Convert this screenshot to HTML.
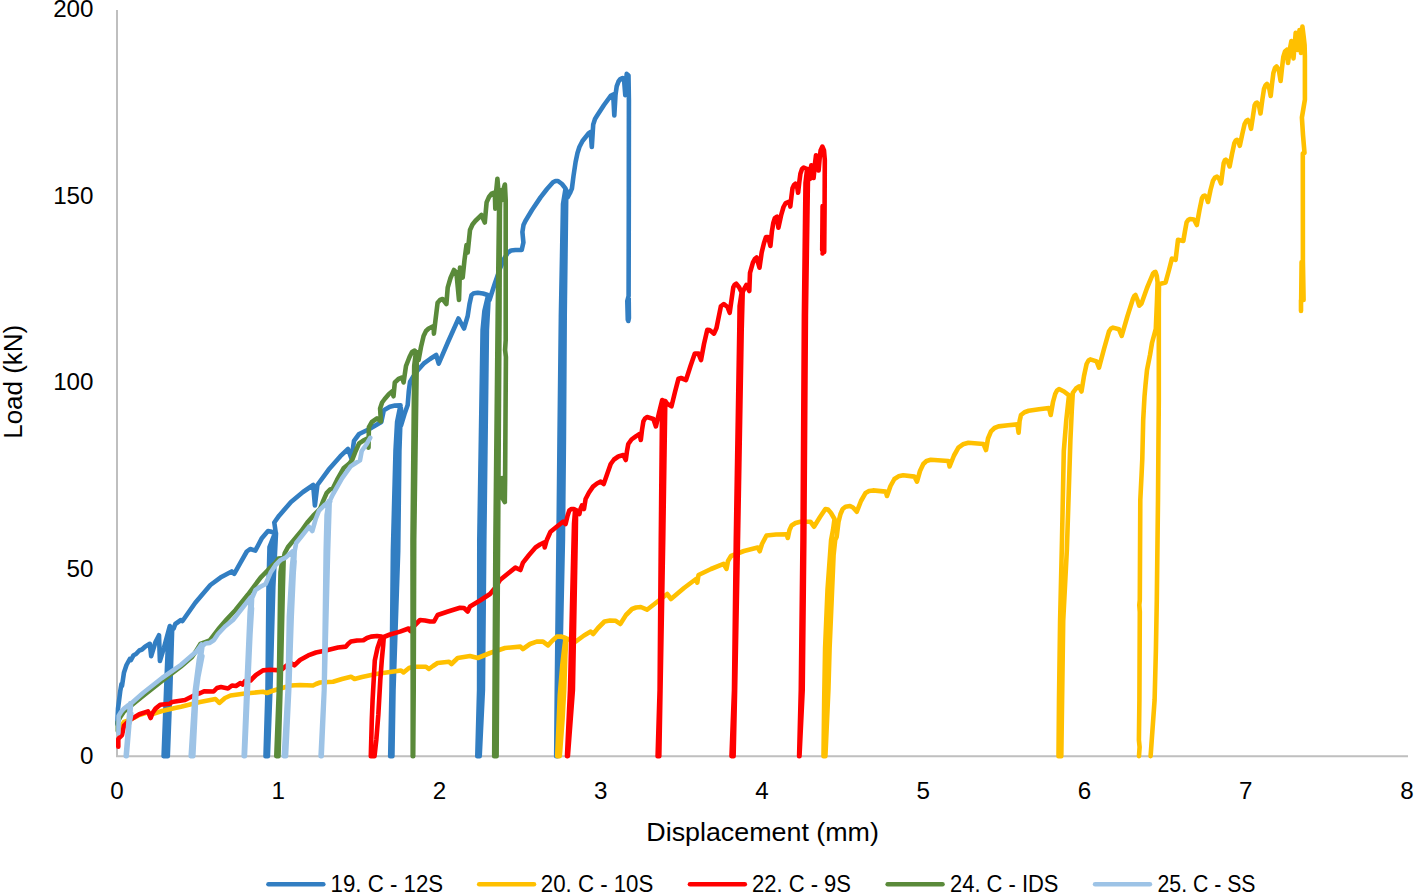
<!DOCTYPE html>
<html lang="en"><head><meta charset="utf-8"><title>Load vs Displacement</title>
<style>
html,body{margin:0;padding:0;background:#fff;}
body{width:1414px;height:893px;overflow:hidden;font-family:"Liberation Sans",sans-serif;}
svg{display:block}
text{font-family:"Liberation Sans",sans-serif;fill:#000;}
.s{fill:none;stroke-width:4.6;stroke-linejoin:round;stroke-linecap:round}
</style></head><body>
<svg width="1414" height="893" viewBox="0 0 1414 893">
<rect width="1414" height="893" fill="#fff"/>
<path d="M117 10 V756.2 H1408" fill="none" stroke="#BFBFBF" stroke-width="2"/>

<path class="s" stroke="#327EC2" d="M117.4 724.0 L117.6 718.0 L118.0 708.6 L120.2 691.4 L121.5 684.0 L122.0 686.0 L124.0 672.4 L126.5 665.0 L129.8 659.0 L131.0 660.0 L133.6 655.2 L136.0 654.0 L139.3 650.5 L142.0 649.5 L145.0 646.7 L149.8 643.8 L151.2 656.2 L155.5 642.0 L159.0 635.2 L159.9 661.0 L164.0 647.6 L169.8 626.0 L171.2 628.0 L168.0 642.0 L166.1 690.0 L163.6 756.2 L165.7 756.2 L168.2 690.0 L171.2 638.0 L168.2 690.0 L165.7 756.2 L167.8 756.2 L170.3 690.0 L172.2 628.0 L173.6 628.6 L175.3 624.0 L181.0 620.0 L182.5 621.0 L195.3 602.7 L210.4 585.0 L220.4 577.6 L231.7 571.4 L234.2 573.9 L240.5 562.6 L246.8 551.5 L250.2 549.0 L255.3 550.6 L262.0 537.9 L268.0 531.0 L270.5 531.5 L275.0 533.0 L269.5 547.0 L268.5 587.0 L267.5 690.0 L265.5 756.2 L266.7 756.2 L268.9 690.0 L270.9 587.0 L273.7 543.0 L270.9 587.0 L268.9 690.0 L266.7 756.2 L267.9 756.2 L270.4 690.0 L273.3 587.0 L276.0 533.0 L275.8 533.0 L274.3 522.5 L279.1 515.7 L291.0 502.0 L303.0 492.0 L313.2 485.0 L314.9 505.5 L317.4 485.0 L328.5 469.8 L340.4 456.2 L348.0 449.0 L351.5 458.7 L354.0 440.8 L359.1 434.0 L369.4 429.0 L381.3 422.0 L383.8 410.2 L389.8 406.8 L395.0 405.6 L400.5 405.4 L399.9 408.0 L397.1 422.0 L395.5 451.0 L392.9 551.0 L391.5 690.0 L390.2 756.2 L391.3 756.2 L392.5 690.0 L395.6 551.0 L397.4 451.0 L400.2 418.0 L397.4 451.0 L395.6 551.0 L392.5 690.0 L391.3 756.2 L392.4 756.2 L393.5 690.0 L398.2 551.0 L399.4 451.0 L400.9 408.0 L401.0 425.5 L404.5 414.0 L407.7 405.0 L408.8 391.0 L410.0 382.0 L413.6 376.0 L418.0 370.0 L423.6 363.7 L430.0 359.0 L436.2 355.0 L438.7 363.7 L448.0 342.0 L458.5 318.5 L464.0 328.5 L467.7 316.0 L469.5 304.0 L471.5 295.0 L474.0 293.2 L477.8 292.7 L483.0 293.5 L487.8 295.0 L487.7 297.0 L484.4 311.0 L482.6 330.0 L479.3 540.0 L479.1 690.0 L477.3 756.2 L478.5 756.2 L481.0 690.0 L481.8 540.0 L484.8 330.0 L488.1 307.0 L484.8 330.0 L481.8 540.0 L481.0 690.0 L478.5 756.2 L479.7 756.2 L482.9 690.0 L484.3 540.0 L486.9 330.0 L488.7 297.0 L489.5 300.0 L495.0 283.0 L500.4 267.6 L504.0 259.0 L507.9 252.6 L511.0 250.5 L515.4 250.0 L521.7 250.0 L523.4 242.5 L522.4 232.0 L523.5 225.0 L525.4 221.0 L532.0 210.0 L540.5 197.4 L547.0 189.0 L553.0 182.3 L555.5 181.0 L558.0 181.0 L562.0 184.0 L565.6 188.6 L565.3 190.0 L563.0 204.0 L560.9 316.0 L559.5 440.0 L558.5 540.0 L556.8 690.0 L556.2 756.2 L557.0 756.2 L558.2 690.0 L560.7 540.0 L561.7 440.0 L562.8 316.0 L565.6 200.0 L562.8 316.0 L561.7 440.0 L560.7 540.0 L558.2 690.0 L557.0 756.2 L557.7 756.2 L559.7 690.0 L562.9 540.0 L563.9 440.0 L564.7 316.0 L566.3 190.0 L567.6 197.4 L570.0 193.0 L571.9 188.6 L573.5 176.0 L575.6 162.0 L577.5 153.0 L579.4 147.0 L582.5 141.0 L585.7 137.0 L588.5 133.5 L590.7 132.0 L591.8 147.0 L593.2 124.6 L595.0 119.0 L597.0 115.8 L604.0 105.0 L610.7 95.8 L613.2 94.5 L614.3 115.5 L615.5 95.0 L616.7 86.4 L618.5 81.5 L620.4 79.0 L622.5 78.0 L624.0 79.0 L625.3 95.2 L626.7 73.9 L628.5 75.5 L628.9 100.0 L628.8 200.0 L628.6 296.0 L627.3 301.0 L627.8 320.0 L628.9 318.0 L628.7 298.0 L628.9 318.0 L628.3 321.0"/>
<path class="s" stroke="#FFC000" d="M118.6 732.0 L119.5 729.0 L124.0 722.0 L129.8 720.0 L139.3 715.0 L147.9 712.4 L152.6 714.0 L162.0 711.0 L175.0 708.0 L181.0 706.7 L200.0 702.0 L215.5 699.0 L219.3 702.9 L225.0 698.0 L230.5 695.5 L245.0 693.5 L263.0 691.8 L267.0 693.0 L272.0 691.0 L290.7 685.5 L300.0 685.0 L313.0 685.5 L316.0 684.0 L320.0 682.5 L333.0 681.7 L342.0 679.0 L351.0 676.7 L354.5 679.0 L362.0 677.0 L376.0 674.0 L390.0 672.0 L401.0 670.5 L403.5 672.5 L409.0 668.0 L413.6 666.7 L426.0 666.7 L428.9 669.0 L433.0 666.0 L437.6 663.0 L449.0 661.7 L451.5 664.0 L457.7 658.0 L470.0 656.0 L477.8 658.0 L490.0 653.0 L505.0 648.0 L520.4 646.6 L522.9 649.0 L530.0 644.0 L536.7 641.6 L543.0 641.6 L548.0 645.4 L552.0 641.0 L556.8 636.6 L561.0 636.5 L565.6 638.0 L564.0 650.0 L562.3 665.0 L559.8 695.0 L557.2 756.2 L559.8 756.2 L562.5 720.0 L564.2 690.0 L565.4 655.0 L566.3 638.5 L575.6 641.6 L584.0 635.5 L590.7 631.6 L593.2 634.0 L598.0 628.0 L604.5 621.5 L610.0 620.5 L615.8 620.8 L620.3 624.0 L626.0 615.0 L632.0 609.0 L636.0 607.5 L640.8 607.0 L647.0 609.7 L657.0 602.0 L667.2 594.0 L671.0 599.0 L684.0 588.0 L696.0 579.0 L697.3 582.6 L698.5 575.0 L711.0 569.0 L723.6 563.8 L726.5 568.9 L728.0 561.0 L731.0 556.0 L744.0 551.0 L757.7 547.5 L759.7 551.3 L762.0 544.0 L766.5 535.5 L776.0 534.5 L786.6 534.3 L787.8 538.0 L789.5 530.0 L791.6 525.5 L795.5 523.0 L800.4 521.7 L810.4 521.7 L814.0 526.7 L820.0 517.0 L825.4 509.0 L828.0 509.5 L831.0 513.0 L834.5 519.0 L833.0 530.0 L831.1 540.0 L827.5 590.0 L825.1 648.0 L824.2 700.0 L823.5 756.2 L825.4 756.2 L828.4 690.0 L829.6 648.0 L832.1 590.0 L833.6 555.0 L835.2 540.0 L836.7 536.8 L838.5 522.0 L840.5 514.0 L842.7 509.0 L845.5 506.7 L850.0 506.0 L853.0 507.5 L856.8 511.7 L861.0 501.0 L865.6 492.9 L869.0 491.0 L873.0 490.4 L885.7 491.6 L887.0 496.0 L890.5 486.0 L894.4 479.0 L898.5 476.3 L903.2 475.3 L914.5 476.6 L917.0 481.6 L920.0 471.0 L923.3 464.0 L926.5 461.0 L930.8 459.8 L948.4 461.0 L949.6 466.5 L954.0 455.5 L958.4 447.7 L963.0 444.3 L968.4 442.7 L983.5 444.0 L986.0 450.0 L988.0 438.5 L991.0 431.4 L994.5 428.0 L998.5 426.4 L1008.0 425.3 L1017.4 424.4 L1018.6 432.7 L1019.6 421.0 L1021.0 415.0 L1024.5 412.2 L1028.7 410.8 L1039.0 409.3 L1049.0 408.0 L1050.7 415.0 L1053.0 402.0 L1055.2 394.0 L1057.0 390.5 L1059.0 389.0 L1064.0 391.5 L1069.0 395.3 L1066.3 420.0 L1063.8 451.0 L1062.0 540.0 L1060.1 621.0 L1059.0 700.0 L1058.5 756.2 L1061.3 756.2 L1063.2 621.0 L1066.9 549.0 L1070.4 440.0 L1071.8 410.0 L1072.8 392.8 L1076.0 388.5 L1079.0 386.5 L1081.5 391.5 L1084.0 376.0 L1086.6 364.0 L1088.5 360.5 L1090.3 359.4 L1096.6 361.4 L1099.0 367.7 L1104.0 349.0 L1109.0 331.3 L1111.0 328.5 L1113.0 327.6 L1119.0 329.3 L1121.7 335.8 L1127.5 316.0 L1133.0 298.7 L1134.3 296.0 L1135.5 295.0 L1137.3 299.5 L1139.2 305.7 L1141.5 303.6 L1147.0 288.0 L1153.0 273.6 L1154.3 272.2 L1155.5 271.9 L1156.8 276.0 L1157.6 282.4 L1157.0 300.0 L1155.8 328.8 L1152.0 343.0 L1150.0 355.0 L1147.0 370.0 L1145.5 385.0 L1144.5 396.6 L1143.2 420.0 L1142.3 459.0 L1141.6 474.0 L1140.3 500.0 L1139.8 600.0 L1139.3 605.0 L1139.8 612.0 L1139.4 700.0 L1138.9 740.0 L1139.6 747.0 L1139.0 756.2 M1150.6 756.2 L1154.6 700.0 L1155.9 650.0 L1156.8 600.0 L1158.0 500.0 L1158.8 400.0 L1158.8 300.0 L1159.0 284.0 L1160.6 283.7 L1165.6 282.4 L1169.0 270.0 L1171.9 258.6 L1175.6 259.8 L1177.0 248.0 L1178.0 239.8 L1183.3 241.0 L1185.0 231.0 L1186.6 222.4 L1188.2 220.0 L1190.0 219.0 L1194.0 219.5 L1196.8 225.0 L1199.5 210.0 L1202.0 198.0 L1203.3 196.2 L1204.8 195.5 L1206.5 197.5 L1208.0 202.0 L1210.5 190.0 L1213.0 180.7 L1215.0 177.6 L1217.0 176.7 L1219.0 178.5 L1221.0 183.4 L1222.5 172.0 L1223.7 163.0 L1224.8 160.3 L1225.8 159.7 L1227.8 161.5 L1229.6 166.5 L1232.0 154.0 L1234.4 143.0 L1235.7 140.5 L1237.0 139.8 L1238.5 141.5 L1239.8 145.8 L1242.3 134.0 L1244.6 124.0 L1246.2 121.0 L1247.8 120.0 L1249.5 122.5 L1251.0 128.8 L1253.0 116.0 L1254.6 105.4 L1255.8 103.2 L1257.0 102.7 L1259.0 105.5 L1260.5 113.5 L1262.3 100.0 L1264.0 89.0 L1265.5 85.5 L1267.0 84.0 L1269.0 87.0 L1270.7 96.0 L1272.0 84.0 L1273.4 73.0 L1275.0 68.0 L1276.6 66.5 L1278.8 70.0 L1280.6 81.0 L1282.0 68.0 L1283.3 57.0 L1285.0 51.5 L1286.8 49.8 L1288.0 63.0 L1289.7 50.0 L1291.4 41.0 L1293.5 58.4 L1295.7 32.8 L1297.6 50.0 L1299.5 30.0 L1301.0 53.0 L1302.4 26.5 L1303.6 36.0 L1304.6 45.0 L1304.9 56.6 L1304.9 99.6 L1303.5 108.0 L1301.9 117.5 L1303.0 135.0 L1304.5 153.0 L1302.8 153.5 L1302.9 261.0 L1303.6 300.0 L1301.2 299.0 L1301.6 262.0 L1302.4 300.0 L1301.0 300.0 L1301.0 311.0"/>
<path class="s" stroke="#FF0000" d="M118.3 746.7 L118.3 739.0 L120.0 737.0 L122.0 735.0 L124.0 725.7 L129.8 720.0 L139.3 714.3 L147.9 711.4 L150.7 718.0 L152.5 713.0 L155.5 708.6 L160.2 704.8 L169.8 703.8 L172.0 702.0 L185.0 700.0 L196.4 694.3 L200.4 693.0 L204.0 691.4 L213.6 691.5 L217.0 688.0 L221.0 687.0 L228.0 688.5 L232.0 685.5 L236.0 686.0 L240.5 683.0 L242.5 684.5 L245.0 681.0 L250.5 680.5 L256.0 675.0 L263.0 670.4 L270.0 669.8 L280.6 670.4 L286.0 666.0 L290.7 663.0 L294.4 665.4 L300.0 660.0 L308.2 655.4 L316.0 652.5 L325.8 650.4 L338.0 647.5 L345.9 646.6 L348.0 644.0 L350.9 641.6 L357.0 640.5 L363.4 640.3 L367.0 638.0 L371.0 636.6 L377.0 636.0 L381.5 636.6 L380.2 640.0 L377.5 648.0 L374.8 660.4 L372.6 700.0 L371.8 720.0 L370.8 756.2 L374.5 756.2 L376.3 740.0 L378.3 715.0 L380.3 680.0 L381.8 660.0 L383.2 645.0 L383.8 637.0 L390.0 634.5 L400.0 631.6 L408.6 628.5 L410.3 631.0 L412.0 628.0 L420.0 620.0 L425.0 620.5 L430.0 621.5 L434.0 621.5 L437.6 615.0 L448.0 611.5 L460.0 607.7 L464.0 608.0 L467.7 611.5 L470.0 606.5 L480.0 600.5 L490.0 594.0 L495.0 588.0 L500.0 580.0 L508.0 573.5 L515.4 567.6 L520.4 570.0 L523.0 562.6 L529.0 555.0 L535.5 547.5 L540.0 544.5 L544.0 542.5 L544.7 547.5 L546.8 540.0 L550.5 531.8 L557.0 526.5 L563.0 521.7 L565.6 524.0 L567.5 516.0 L569.3 510.4 L571.5 509.0 L574.0 509.0 L575.1 510.0 L574.0 524.0 L573.6 540.0 L570.0 690.0 L567.0 756.2 L567.5 756.2 L571.5 690.0 L574.6 540.0 L576.0 520.0 L574.6 540.0 L571.5 690.0 L567.5 756.2 L567.9 756.2 L572.9 690.0 L575.7 540.0 L576.1 510.0 L579.4 514.0 L580.5 509.0 L582.0 505.4 L584.0 509.0 L585.6 499.0 L589.0 492.5 L593.0 486.6 L597.0 483.5 L600.7 481.6 L603.7 484.0 L607.0 474.5 L610.7 464.0 L614.0 459.5 L618.3 456.5 L623.3 455.0 L625.8 460.0 L627.0 451.0 L628.3 444.0 L631.5 439.5 L635.8 436.4 L639.6 434.0 L640.8 440.0 L642.0 430.0 L643.4 421.4 L645.0 418.5 L647.0 417.0 L653.4 419.0 L655.9 426.4 L659.0 413.0 L662.2 400.0 L664.3 401.0 L662.0 415.0 L660.8 540.0 L659.6 690.0 L657.6 756.2 L658.5 756.2 L660.0 690.0 L662.0 540.0 L664.5 411.0 L662.0 540.0 L660.0 690.0 L658.5 756.2 L659.3 756.2 L660.5 690.0 L663.2 540.0 L665.3 401.0 L667.2 403.8 L671.5 406.3 L675.0 392.0 L678.5 378.7 L681.0 378.0 L686.0 380.0 L690.5 366.0 L694.8 353.6 L698.5 353.6 L701.0 360.0 L704.0 344.0 L707.3 329.8 L709.5 330.0 L714.0 333.6 L716.5 328.0 L718.5 318.0 L720.9 306.3 L723.8 304.0 L727.5 307.0 L729.7 312.8 L731.5 300.0 L733.3 287.3 L734.7 284.6 L736.2 283.7 L739.1 287.3 L741.3 291.7 L741.7 292.0 L739.6 306.0 L739.3 330.0 L735.8 540.0 L734.0 690.0 L731.5 756.2 L732.5 756.2 L734.5 690.0 L736.9 540.0 L740.5 330.0 L742.0 302.0 L740.5 330.0 L736.9 540.0 L734.5 690.0 L732.5 756.2 L733.6 756.2 L735.1 690.0 L738.0 540.0 L741.7 330.0 L742.7 292.0 L744.2 288.8 L746.4 285.0 L749.3 291.0 L750.0 272.8 L752.9 262.6 L754.8 259.0 L756.6 257.5 L759.5 267.7 L761.7 252.4 L764.0 243.0 L766.0 237.0 L768.2 237.0 L770.4 245.9 L771.9 231.3 L773.3 223.0 L774.8 218.2 L777.0 216.7 L778.4 227.7 L781.3 214.6 L783.5 207.0 L785.7 203.0 L789.3 201.5 L790.3 206.6 L791.5 196.0 L792.5 188.3 L794.0 185.0 L795.4 183.8 L797.0 186.0 L798.1 192.8 L799.3 182.0 L800.4 173.7 L802.0 169.0 L803.7 167.5 L807.1 169.0 L805.5 183.0 L803.9 316.0 L802.5 540.0 L800.8 690.0 L799.1 756.2 L799.3 756.2 L801.8 690.0 L803.4 540.0 L804.9 316.0 L807.7 179.0 L804.9 316.0 L803.4 540.0 L801.8 690.0 L799.3 756.2 L799.5 756.2 L802.7 690.0 L804.3 540.0 L805.9 316.0 L808.1 169.0 L809.8 179.0 L810.5 171.0 L811.3 165.4 L813.6 178.0 L814.8 165.0 L816.0 155.4 L818.6 170.5 L819.7 158.0 L820.6 150.4 L822.4 146.6 L824.0 150.4 L824.8 160.0 L824.6 205.0 L824.2 252.0 L822.2 250.0 L822.6 206.0 L823.0 251.0 L822.6 253.5"/>
<path class="s" stroke="#5A8A3A" d="M117.8 731.0 L117.8 722.0 L120.0 717.5 L124.0 711.5 L130.0 706.5 L143.0 696.0 L162.0 681.0 L181.0 666.5 L192.0 657.0 L196.4 650.5 L200.4 644.0 L209.8 640.5 L219.3 628.0 L227.0 619.0 L235.5 610.0 L248.0 594.5 L260.6 577.6 L268.0 570.0 L275.6 562.6 L278.5 558.5 L282.7 558.0 L280.5 572.0 L280.2 587.0 L278.8 690.0 L276.3 756.2 L277.4 756.2 L279.6 690.0 L281.5 587.0 L283.1 568.0 L281.5 587.0 L279.6 690.0 L277.4 756.2 L278.5 756.2 L280.5 690.0 L282.9 587.0 L283.7 558.0 L284.8 553.0 L288.0 547.0 L292.8 541.3 L301.3 531.0 L308.0 521.7 L313.2 515.7 L320.0 509.0 L323.4 500.4 L326.8 492.8 L330.2 489.4 L332.8 488.5 L337.0 480.0 L343.8 468.0 L349.0 463.8 L352.3 459.6 L355.7 451.0 L359.1 443.4 L364.3 440.0 L367.7 438.3 L368.5 447.7 L368.9 427.2 L371.9 422.0 L377.0 418.4 L380.9 421.3 L380.1 408.5 L382.1 402.5 L384.7 399.0 L386.0 397.5 L389.0 394.0 L392.3 391.3 L393.5 396.3 L394.8 382.5 L398.5 379.0 L402.3 377.5 L403.6 382.5 L406.0 366.0 L409.5 357.0 L412.0 352.0 L414.6 350.5 L415.9 352.0 L414.2 366.0 L412.5 540.0 L412.7 690.0 L412.7 756.2 L412.9 756.2 L413.2 690.0 L413.4 540.0 L416.4 362.0 L413.4 540.0 L413.2 690.0 L412.9 756.2 L413.2 756.2 L413.7 690.0 L414.2 540.0 L416.9 352.0 L418.6 360.0 L421.0 347.0 L423.6 336.0 L426.0 331.0 L428.7 328.5 L433.7 326.0 L433.9 333.6 L435.5 320.0 L437.6 302.7 L440.0 300.0 L442.6 299.0 L446.4 304.0 L447.7 287.7 L450.5 278.0 L454.0 270.0 L456.4 272.6 L459.0 300.0 L460.0 267.6 L462.7 277.6 L464.5 260.0 L466.5 245.0 L467.7 252.6 L470.0 230.0 L472.5 224.5 L475.3 221.0 L481.5 215.0 L484.8 222.5 L486.6 202.4 L489.0 197.0 L491.6 193.6 L494.8 192.4 L495.3 208.7 L496.3 190.0 L497.4 178.8 L499.2 200.0 L497.7 316.0 L495.4 540.0 L494.2 756.2 L496.6 756.2 L498.1 540.0 L499.5 316.0 L499.9 210.0 L500.4 190.0 L502.2 200.0 L503.6 189.0 L504.9 184.5 L505.7 200.0 L505.7 340.0 L505.1 350.0 L505.9 357.0 L505.1 480.0 L504.8 502.0 L502.3 497.0 L502.1 478.0 L502.5 498.0 L504.8 502.0"/>
<path class="s" stroke="#9DC3E6" d="M118.4 733.3 L118.6 716.0 L121.0 712.0 L124.0 708.6 L127.5 705.8 L130.7 703.8 L130.1 703.5 L128.8 717.5 L127.9 730.0 L125.7 756.2 L126.2 756.2 L128.4 730.0 L131.3 713.5 L128.4 730.0 L126.2 756.2 L126.7 756.2 L128.9 730.0 L131.1 703.5 L143.0 693.0 L162.0 678.0 L181.0 664.8 L190.0 657.0 L196.4 651.4 L200.0 646.5 L201.6 644.5 L201.5 646.0 L198.8 660.0 L194.9 690.0 L190.7 756.2 L192.0 756.2 L195.8 690.0 L202.4 656.0 L195.8 690.0 L192.0 756.2 L193.3 756.2 L196.6 690.0 L202.5 646.0 L205.4 643.5 L209.8 642.9 L214.0 640.0 L218.0 634.0 L225.0 626.5 L233.0 620.0 L242.0 608.5 L250.5 597.7 L251.1 598.0 L249.7 612.0 L246.3 690.0 L243.7 756.2 L244.3 756.2 L247.1 690.0 L252.0 608.0 L247.1 690.0 L244.3 756.2 L244.9 756.2 L247.9 690.0 L252.1 598.0 L255.5 590.0 L260.0 587.0 L265.6 584.0 L270.6 572.6 L275.6 565.0 L280.6 560.0 L285.6 557.6 L289.5 554.0 L293.0 551.0 L293.7 551.0 L292.0 565.0 L288.9 617.0 L287.6 690.0 L283.8 756.2 L284.9 756.2 L288.4 690.0 L290.3 617.0 L294.6 561.0 L290.3 617.0 L288.4 690.0 L284.9 756.2 L286.0 756.2 L289.2 690.0 L291.7 617.0 L294.7 551.0 L296.2 543.0 L303.0 534.5 L309.0 526.8 L312.3 531.0 L315.7 519.0 L319.0 510.6 L325.0 504.7 L330.2 501.3 L328.7 501.0 L326.6 515.0 L325.7 551.0 L323.9 690.0 L320.6 756.2 L321.1 756.2 L324.2 690.0 L326.9 551.0 L329.1 511.0 L326.9 551.0 L324.2 690.0 L321.1 756.2 L321.7 756.2 L324.5 690.0 L328.1 551.0 L329.7 501.0 L332.8 494.5 L342.0 478.3 L350.6 466.4 L355.7 463.0 L360.0 460.4 L361.7 451.0 L366.0 445.0 L370.2 437.8"/>
<text x="93.5" y="16.9" font-size="24.2" text-anchor="end">200</text>
<text x="93.5" y="203.6" font-size="24.2" text-anchor="end">150</text>
<text x="93.5" y="390.2" font-size="24.2" text-anchor="end">100</text>
<text x="93.5" y="576.9" font-size="24.2" text-anchor="end">50</text>
<text x="93.5" y="763.6" font-size="24.2" text-anchor="end">0</text>
<text x="117.0" y="799" font-size="24.2" text-anchor="middle">0</text>
<text x="278.2" y="799" font-size="24.2" text-anchor="middle">1</text>
<text x="439.5" y="799" font-size="24.2" text-anchor="middle">2</text>
<text x="600.8" y="799" font-size="24.2" text-anchor="middle">3</text>
<text x="762.0" y="799" font-size="24.2" text-anchor="middle">4</text>
<text x="923.2" y="799" font-size="24.2" text-anchor="middle">5</text>
<text x="1084.5" y="799" font-size="24.2" text-anchor="middle">6</text>
<text x="1245.8" y="799" font-size="24.2" text-anchor="middle">7</text>
<text x="1407.0" y="799" font-size="24.2" text-anchor="middle">8</text>
<text x="762.6" y="840.8" font-size="25.6" text-anchor="middle" textLength="232.6" lengthAdjust="spacingAndGlyphs">Displacement (mm)</text>
<text transform="translate(21.6,381.8) rotate(-90)" font-size="26.5" text-anchor="middle" textLength="114" lengthAdjust="spacingAndGlyphs">Load (kN)</text>
<path class="s" stroke="#327EC2" d="M268.5 884.2 H323.3"/>
<text x="330.6" y="891.8" font-size="24.2" textLength="112.5" lengthAdjust="spacingAndGlyphs">19. C - 12S</text>
<path class="s" stroke="#FFC000" d="M479.2 884.2 H534.0"/>
<text x="540.8" y="891.8" font-size="24.2" textLength="112.5" lengthAdjust="spacingAndGlyphs">20. C - 10S</text>
<path class="s" stroke="#FF0000" d="M690.0 884.2 H744.8"/>
<text x="752.0" y="891.8" font-size="24.2" textLength="99" lengthAdjust="spacingAndGlyphs">22. C - 9S</text>
<path class="s" stroke="#5A8A3A" d="M887.7 884.2 H942.5"/>
<text x="950.0" y="891.8" font-size="24.2" textLength="108.5" lengthAdjust="spacingAndGlyphs">24. C - IDS</text>
<path class="s" stroke="#9DC3E6" d="M1095.1 884.2 H1149.9"/>
<text x="1157.5" y="891.8" font-size="24.2" textLength="98" lengthAdjust="spacingAndGlyphs">25. C - SS</text>
</svg></body></html>
